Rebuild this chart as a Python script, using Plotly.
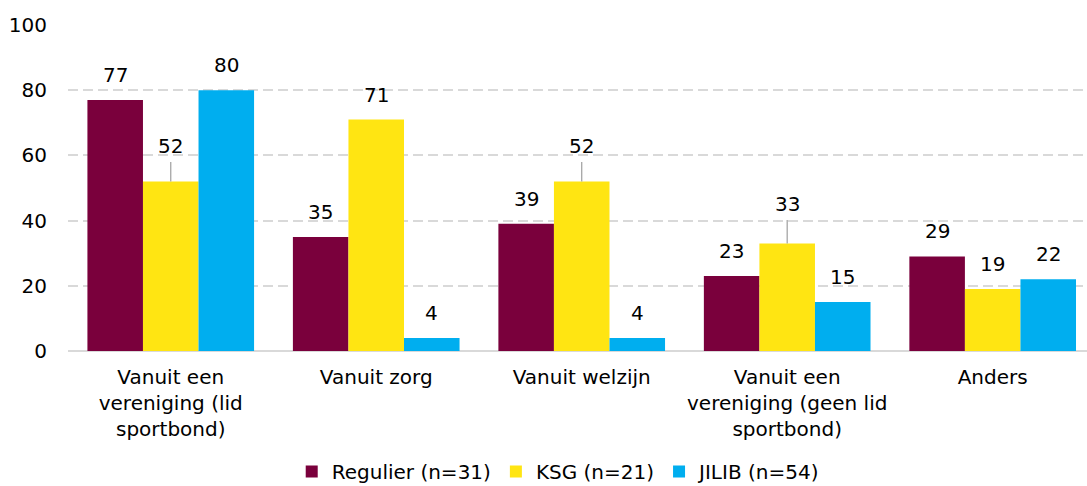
import plotly.graph_objects as go

categories = ["Vanuit een<br>vereniging (lid<br>sportbond)", "Vanuit zorg", "Vanuit welzijn",
              "Vanuit een<br>vereniging (geen lid<br>sportbond)", "Anders"]
series_names = ["Regulier (n=31)", "KSG (n=21)", "JILIB (n=54)"]
regulier = [77, 35, 39, 23, 29]
ksg = [52, 71, 52, 33, 19]
jilib = [80, 4, 4, 15, 22]
colors = ["#7A003C", "#FFE512", "#00AEEF"]
y_ticks = [0, 20, 40, 60, 80, 100]

# labels drawn with a leader line: (series index, category index) -> pixel offset
leader = {(1, 0): -35, (1, 2): -35, (1, 3): -39}

FONT = "DejaVu Sans, sans-serif"
FS = 20
fig = go.Figure()
all_series = [regulier, ksg, jilib]
for name, vals, col in zip(series_names, all_series, colors):
    fig.add_trace(go.Bar(name=name, x=list(range(len(categories))), y=vals,
                         marker=dict(color=col, line=dict(width=0))))

bargap = 0.189
w = (1 - bargap) / 3
for s, vals in enumerate(all_series):
    off = (s - 1) * w
    for c, v in enumerate(vals):
        if (s, c) in leader:
            fig.add_annotation(x=c + off, y=v, text=str(v), showarrow=True, arrowhead=0,
                               arrowwidth=1.3, arrowcolor="#A6A6A6", ax=0, ay=leader[(s, c)],
                               standoff=0, borderpad=3,
                               font=dict(family=FONT, size=FS, color="#000"))
        else:
            fig.add_annotation(x=c + off, y=v, text=str(v), showarrow=False, yshift=25,
                               font=dict(family=FONT, size=FS, color="#000"))

fig.update_layout(
    barmode="group", bargap=bargap, bargroupgap=0,
    width=1087, height=486, margin=dict(l=68, r=0, t=24.5, b=135, autoexpand=False),
    plot_bgcolor="white", paper_bgcolor="white",
    font=dict(family=FONT, size=FS, color="#000"),
    legend=dict(orientation="h", xref="container", x=0.514, xanchor="center",
                yref="container", y=0.03, yanchor="middle", font=dict(size=FS),
                itemwidth=30, traceorder="normal"),
    xaxis=dict(tickmode="array", tickvals=list(range(len(categories))), ticktext=categories,
               range=[-0.5, 4.459], showgrid=False, ticks="", showline=False,
               automargin=False, ticklabelstandoff=12),
    yaxis=dict(range=[0, 100], tickvals=y_ticks, showgrid=True, gridcolor="#D9D9D9",
               griddash="10px,5px", gridwidth=1.6, zeroline=True, zerolinecolor="#D9D9D9",
               zerolinewidth=2, ticks="", ticklabelstandoff=20, automargin=False),
)
fig.write_html("out.html", config={"displayModeBar": False},
               post_script="document.body.style.margin='0';document.body.style.overflow='hidden';")
